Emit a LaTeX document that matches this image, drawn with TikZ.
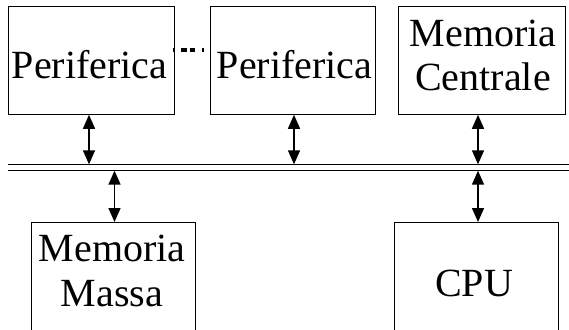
\documentclass[tikz,border=0pt]{standalone}
\usepackage{fontspec}
\setmainfont{Liberation Serif}
\usetikzlibrary{arrows.meta}
\begin{document}
\begin{tikzpicture}[x=1pt,y=-1pt,
  box/.style={draw, line width=0.8pt, inner sep=0pt, anchor=north west},
  lbl/.style={anchor=base, inner sep=0pt, font=\fontsize{40}{48}\selectfont},
  bus/.style={line width=1.1pt},
  biarrow/.style={line width=1.5pt, {Triangle[length=14pt,width=12pt]}-{Triangle[length=14pt,width=12pt]}},
  dots/.style={line width=3pt, dash pattern=on 1.5pt off 6.5pt on 6pt off 2.6pt on 5.7pt off 6.7pt on 1.6pt off 20pt}]
\useasboundingbox (0,0) rectangle (569,329);
\clip (0,0) rectangle (569,329);
% boxes
\node[box, minimum width=166pt, minimum height=108pt] (p1) at (8,6) {};
\node[box, minimum width=165pt, minimum height=108pt] (p2) at (210,6) {};
\node[box, minimum width=167pt, minimum height=108pt] (mc) at (398,6) {};
\node[box, minimum width=164pt, minimum height=130pt] (mm) at (30.5,222) {};
\node[box, minimum width=164pt, minimum height=130pt] (cpu) at (394,222) {};
% labels
\node[lbl] (t1) at (89.5,78.3) {Periferica};
\node[lbl] (t2) at (294.5,78.3) {Periferica};
\node[lbl] (t3) at (483,46.7) {Memoria};
\node[lbl] (t4) at (483,90) {Centrale};
\node[lbl] (t5) at (112,261) {Memoria};
\node[lbl] (t6) at (112,306.7) {Massa};
\node[lbl] (t7) at (474,296) {CPU};
% dots between peripherals
\coordinate (d1) at (173,50);
\coordinate (d2) at (205,50);
\draw[dots] (d1) -- (d2);
% bus
\coordinate (bl1) at (8,164.3);
\coordinate (br1) at (569,164.3);
\coordinate (bl2) at (8,170.7);
\coordinate (br2) at (569,170.7);
\draw[bus] (bl1) -- (br1);
\draw[bus] (bl2) -- (br2);
% arrows
\coordinate (a1) at (89,164.3);
\coordinate (a2) at (294,164.3);
\coordinate (a3) at (478,164.3);
\coordinate (a4) at (114.5,170.7);
\coordinate (a5) at (478,170.7);
\draw[biarrow] (p1.south -| a1) -- (a1);
\draw[biarrow] (p2.south -| a2) -- (a2);
\draw[biarrow] (mc.south -| a3) -- (a3);
\draw[biarrow] (a4) -- (mm.north -| a4);
\draw[biarrow] (a5) -- (cpu.north -| a5);
\end{tikzpicture}
\end{document}
